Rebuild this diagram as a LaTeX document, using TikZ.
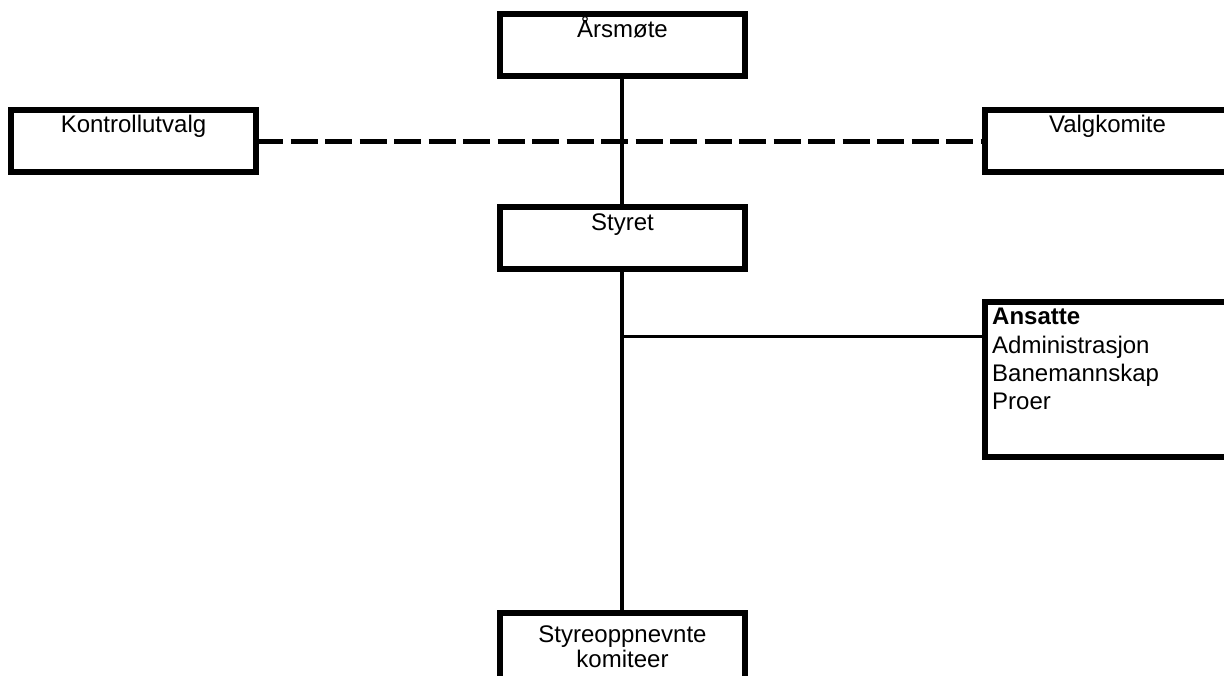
\documentclass[tikz,border=0pt]{standalone}
\usepackage{fontspec}
\setmainfont{Liberation Sans}
\begin{document}
\begin{tikzpicture}[x=1pt,y=-1pt,
  orgbox/.style={draw=black,fill=white,line width=6pt,minimum width=245pt,inner sep=0pt,outer sep=0pt,rectangle},
  lbl/.style={font=\fontsize{24}{28}\selectfont,inner sep=0pt,anchor=base},
  conn/.style={line width=4pt,draw=black},
  dashconn/.style={line width=5pt,draw=black,dash pattern=on 27pt off 7.5pt}]
\useasboundingbox (0,0) rectangle (1224,675);
\clip (0,0) rectangle (1224,675);
% connectors (drawn first, boxes on top)
\coordinate (ars-c) at (622,45);
\coordinate (styret-c) at (622,238);
\coordinate (sok-c) at (622,653);
\coordinate (j) at (622,336);
\node[orgbox,minimum height=62pt] (kontroll) at (133.5,141) {};
\node[orgbox,minimum height=62pt] (valg) at (1107.5,141) {};
\draw[dashconn] (kontroll.east) -- (valg.west);
\draw[conn] (ars-c) -- (styret-c);
\draw[conn] (styret-c) -- (sok-c);
\node[orgbox,minimum height=62pt] (ars) at (622.5,45) {};
\node[orgbox,minimum height=62pt] (styret) at (622.5,238) {};
\node[orgbox,minimum height=80pt] (sok) at (622.5,653) {};
\node[orgbox,minimum height=155pt] (ansatte) at (1107.5,379.5) {};
\draw[line width=3pt] (j) -- (j -| ansatte.west);
% labels
\node[lbl] (ars-t) at ([yshift=-23pt]ars.north) {Årsmøte};
\node[lbl] (kontroll-t) at ([yshift=-22pt]kontroll.north) {Kontrollutvalg};
\node[lbl] (valg-t) at ([yshift=-22pt]valg.north) {Valgkomite};
\node[lbl] (styret-t) at ([yshift=-23pt]styret.north) {Styret};
\node[lbl,anchor=north,align=center,font=\fontsize{24}{25}\selectfont] (sok-t) at ([yshift=-12.5pt]sok.north) {Styreoppnevnte\\komiteer};
\node[lbl,anchor=north west,align=left,font=\fontsize{24}{28.3}\selectfont] (ansatte-t) at (992,308) {\textbf{Ansatte}\\Administrasjon\\Banemannskap\\Proer};
\end{tikzpicture}
\end{document}
